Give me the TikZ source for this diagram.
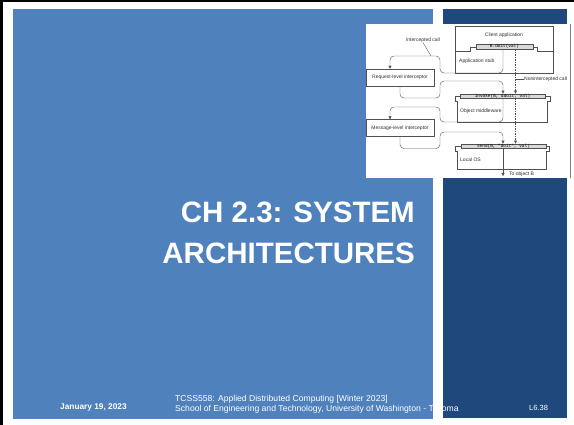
\documentclass[tikz,border=0pt]{standalone}
\usepackage{fontspec}
\setmainfont{Liberation Sans}
\setmonofont{Liberation Mono}
\usetikzlibrary{arrows.meta,calc}
\definecolor{lightblue}{HTML}{4F81BD}
\definecolor{darkblue}{HTML}{1F497D}
\definecolor{diagline}{HTML}{505050}
\definecolor{diagtext}{HTML}{303030}
\tikzset{
  lbl/.style={font=\fontsize{5}{6}\selectfont, text=diagtext, inner sep=0pt},
  callbox/.style={draw=diagline, fill=gray!30, line width=0.4pt, inner sep=0pt,
    minimum height=4.4pt, font=\ttfamily\fontsize{4.4}{5}\selectfont, text=black},
  ibox/.style={draw=diagline, line width=0.4pt, minimum width=68pt, minimum height=17pt,
    inner sep=0pt, font=\fontsize{5}{6}\selectfont, text=diagtext},
  layer/.style={draw=diagline, line width=0.4pt},
  conn/.style={draw=diagline, line width=0.4pt, rounded corners=4pt},
  tipd/.style={-{Triangle[length=3pt,width=3pt]}},
  foot/.style={text=white, inner sep=0pt, anchor=base west},
  ttl/.style={anchor=base east, text=white, inner sep=0pt, font=\bfseries\fontsize{29.5}{31}\selectfont},
}
\begin{document}
\begin{tikzpicture}[x=1pt,y=-1pt]
\useasboundingbox (0,0) rectangle (574,425);
\fill[white] (0,0) rectangle (574,425);
\fill[black] (0,0) rectangle (574,2.5);
\fill[black] (0,0) rectangle (2.5,425);
\fill[lightblue] (13,9) rectangle (433,419);
\fill[darkblue] (443,9) rectangle (567,418);

% title
\node[ttl] (title1) at (415,223) {CH 2.3: SYSTEM};
\node[ttl] (title2) at (415,264) {ARCHITECTURES};

% footer
\node[foot, font=\bfseries\fontsize{8.3}{9}\selectfont] (date) at (60,409.5) {January 19, 2023};
\node[foot, font=\fontsize{8.6}{9}\selectfont] (course) at (175,401) {TCSS558: Applied Distributed Computing [Winter 2023]};
\node[foot, font=\fontsize{8.6}{9}\selectfont] (school) at (175,411) {School of Engineering and Technology, University of Washington - Tacoma};
\node[foot, font=\fontsize{7.5}{9}\selectfont] (page) at (529,410.5) {L6.38};
% the gap between the panels hides part of the footer line
\fill[white] (433,395) rectangle (443,419);

% embedded figure
\fill[white] (366,24) rectangle (571,178);
\draw[gray, line width=0.8pt] (570.6,24) -- (570.6,178);

\coordinate (solx) at (503,0);
\coordinate (dashx) at (515.5,0);

% level 0: client application / application stub
\draw[layer] (455,26) rectangle (553,73);
\node[callbox, minimum width=57pt] (call0) at (504.5,46.8) {B.doit(val)};
\draw[layer] (455,51) -- (470,51) -- (470,46.8) -- (call0.west);
\draw[layer] (call0.east) -- (537,46.8) -- (537,51) -- (553,51);
\node[lbl] (clientlbl) at (504,35.5) {Client application};
\node[lbl, anchor=west] (stublbl) at (459,61) {Application stub};

% level 1: object middleware
\node[callbox, minimum width=85pt] (call1) at (502.5,96) {invoke(B, \&doit, val)};
\draw[layer] (call1.west) -- (455,96) -- (455,101) -- (457,101) -- (457,122) -- (547,122) -- (547,101) -- (550,101) -- (550,96) -- (call1.east);
\node[lbl, anchor=west] (mwlbl) at (460,111) {Object middleware};

% level 2: local OS
\node[callbox, minimum width=85pt] (call2) at (503.5,146) {send(B, "doit", val)};
\draw[layer] (call2.west) -- (455,146) -- (455,151) -- (457,151) -- (457,169) -- (546,169) -- (546,151) -- (549,151) -- (549,146) -- (call2.east);
\node[lbl, anchor=west] (oslbl) at (460,160) {Local OS};

% interceptors
\node[ibox] (req) at (400,77.5) {Request-level interceptor};
\node[ibox] (msg) at (400,128) {Message-level interceptor};
\coordinate (reqin) at ($(req.north)+(-10,0)$);
\coordinate (msgin) at ($(msg.north)+(-10,0)$);

% intercepted paths
\draw[conn, tipd] (call0.south -| solx) -- (503,73) -- (440,73) -- (440,56) -- (390,56) -- (reqin);
\draw[conn, tipd] (req.south) -- (400,98) -- (440,98) -- (440,81) -- (503,81) -- (call1.north -| solx);
\draw[conn, tipd] (call1.south -| solx) -- (503,122) -- (440,122) -- (440,107) -- (390,107) -- (msgin);
\draw[conn, tipd] (msg.south) -- (400,148.5) -- (440,148.5) -- (440,132) -- (503,132) -- (call2.north -| solx);

% nonintercepted paths
\draw[diagline, line width=0.4pt, dashed, dash pattern=on 1.5pt off 1pt, tipd] (call0.south -| dashx) -- (call1.north -| dashx);
\draw[diagline, line width=0.4pt, dashed, dash pattern=on 1.5pt off 1pt, tipd] (call1.south -| dashx) -- (call2.north -| dashx);

% to object B
\coordinate (tob) at (503,176);
\draw[diagline, line width=0.4pt, tipd] (call2.south -| solx) -- (tob);
\node[lbl, anchor=west] (toblbl) at (509,174.5) {To object B};

% labels with leaders
\node[lbl] (icall) at (423,40) {Intercepted call};
\coordinate (icallpt) at (431,56);
\draw[diagline, line width=0.35pt] (icall.south) -- (icallpt);
\node[lbl, anchor=west] (nicall) at (524,79) {Nonintercepted call};
\coordinate (nicallpt) at (516,79);
\draw[diagline, line width=0.35pt] (nicallpt) -- (nicall.west);
\end{tikzpicture}
\end{document}
